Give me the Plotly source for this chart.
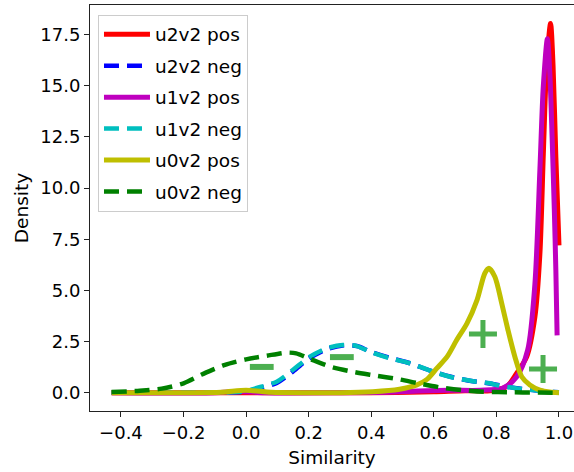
import plotly.graph_objects as go

# ---- data ----
u2v2_pos_x = [-0.43, 0.0, 0.4, 0.6, 0.7, 0.78, 0.833, 0.865, 0.897, 0.923, 0.939, 0.950, 0.960, 0.973, 0.981, 0.990, 1.0]
u2v2_pos_y = [0.0, 0.0, 0.0, 0.05, 0.1, 0.1, 0.3, 0.96, 1.76, 3.7, 6.8, 11.7, 15.8, 18.05, 16.0, 11.5, 7.2]

u2v2_neg_x = [-0.43, -0.2, -0.05, 0.0, 0.034, 0.098, 0.15, 0.204, 0.258, 0.309, 0.354, 0.396, 0.46, 0.524, 0.588, 0.651, 0.725, 0.779, 0.80, 0.865, 0.916, 0.96, 1.0]
u2v2_neg_y = [0.0, 0.0, 0.01, 0.06, 0.19, 0.48, 1.04, 1.70, 2.13, 2.31, 2.28, 2.02, 1.70, 1.44, 1.08, 0.79, 0.56, 0.45, 0.39, 0.22, 0.13, 0.05, 0.02]

u1v2_pos_x = [-0.43, -0.1, -0.02, 0.06, 0.3, 0.45, 0.55, 0.65, 0.75, 0.821, 0.865, 0.9, 0.923, 0.939, 0.950, 0.963, 0.971, 0.978, 0.985, 0.990, 0.994]
u1v2_pos_y = [0.0, 0.0, 0.06, 0.0, 0.0, 0.02, 0.08, 0.12, 0.12, 0.23, 0.78, 2.09, 5.3, 10.9, 15.0, 17.3, 15.5, 12.5, 9.0, 6.0, 2.8]

u1v2_neg_x = [-0.43, -0.2, -0.05, 0.0, 0.034, 0.098, 0.15, 0.204, 0.258, 0.309, 0.354, 0.396, 0.46, 0.524, 0.588, 0.651, 0.725, 0.779, 0.80, 0.865, 0.916, 0.96, 1.0]
u1v2_neg_y = [0.0, 0.0, 0.02, 0.08, 0.23, 0.54, 1.12, 1.76, 2.17, 2.33, 2.28, 2.0, 1.68, 1.44, 1.08, 0.78, 0.56, 0.46, 0.38, 0.21, 0.13, 0.05, 0.02]

u0v2_pos_x = [-0.43, -0.2, -0.08, 0.0, 0.08, 0.2, 0.3, 0.405, 0.49, 0.546, 0.578, 0.61, 0.642, 0.674, 0.706, 0.738, 0.763, 0.776, 0.795, 0.817, 0.837, 0.859, 0.881, 0.907, 0.939, 0.97, 1.0]
u0v2_pos_y = [0.0, 0.0, 0.02, 0.12, 0.02, 0.0, 0.0, 0.05, 0.17, 0.38, 0.65, 1.2, 1.75, 2.6, 3.39, 4.53, 5.84, 6.08, 5.67, 4.37, 3.06, 1.76, 0.78, 0.38, 0.13, 0.03, 0.0]

u0v2_neg_x = [-0.43, -0.34, -0.27, -0.20, -0.14, -0.07, 0.0, 0.066, 0.13, 0.16, 0.20, 0.27, 0.34, 0.405, 0.49, 0.55, 0.62, 0.69, 0.76, 0.85, 0.92, 1.0]
u0v2_neg_y = [0.03, 0.1, 0.2, 0.46, 0.9, 1.35, 1.63, 1.81, 1.96, 1.92, 1.68, 1.27, 1.03, 0.86, 0.65, 0.46, 0.26, 0.13, 0.05, 0.02, 0.01, 0.0]

plus_x = [0.757, 0.949]
plus_y = [2.87, 1.16]
minus_x = [0.05, 0.306]
minus_y = [1.26, 1.74]

x_ticks = [-0.4, -0.2, 0.0, 0.2, 0.4, 0.6, 0.8, 1.0]
y_ticks = [0.0, 2.5, 5.0, 7.5, 10.0, 12.5, 15.0, 17.5]

series = [
    ("u2v2 pos", u2v2_pos_x, u2v2_pos_y, "#ff0000", "solid"),
    ("u2v2 neg", u2v2_neg_x, u2v2_neg_y, "#0000ff", "dash"),
    ("u1v2 pos", u1v2_pos_x, u1v2_pos_y, "#bf00bf", "solid"),
    ("u1v2 neg", u1v2_neg_x, u1v2_neg_y, "#00bfbf", "dash"),
    ("u0v2 pos", u0v2_pos_x, u0v2_pos_y, "#bfbf00", "solid"),
    ("u0v2 neg", u0v2_neg_x, u0v2_neg_y, "#008000", "dash"),
]

FONT = "DejaVu Sans"
TICK_SIZE = 18
LABEL_SIZE = 18.5
fig = go.Figure()
for i, (name, xs, ys, color, style) in enumerate(series):
    fig.add_trace(go.Scatter(
        x=xs, y=ys, name=name, mode="lines", legendgroup=f"g{i}",
        line=dict(color=color, width=5 if style == "solid" else 4.5,
                  dash="solid" if style == "solid" else "15px,8px",
                  shape="spline", smoothing=0.8),
    ))

mark_color = "#4caf50"
fig.add_trace(go.Scatter(x=plus_x, y=plus_y, mode="markers", showlegend=False,
                         marker=dict(symbol="cross-thin", size=20,
                                     line=dict(color=mark_color, width=5))))
fig.add_trace(go.Scatter(x=minus_x, y=minus_y, mode="markers", showlegend=False,
                         marker=dict(symbol="line-ew", size=17,
                                     line=dict(color=mark_color, width=6))))

axis_common = dict(showgrid=False, zeroline=False, showline=True, linecolor="#222",
                   linewidth=1, ticks="outside", ticklen=5, tickcolor="#222",
                   tickfont=dict(family=FONT, size=TICK_SIZE, color="black"))
fig.update_xaxes(range=[-0.499, 1.048], tickvals=x_ticks, tickformat=".1f", mirror=True,
                 title=dict(text="Similarity", font=dict(family=FONT, size=LABEL_SIZE, color="black"), standoff=9),
                 **axis_common)
fig.update_yaxes(range=[-0.894, 18.95], tickvals=y_ticks, tickformat=".1f", mirror=False,
                 title=dict(text="Density", font=dict(family=FONT, size=LABEL_SIZE, color="black"), standoff=6),
                 **axis_common)

fig.update_layout(
    width=574, height=472, autosize=False,
    margin=dict(l=90, r=0, t=5, b=61),
    plot_bgcolor="white", paper_bgcolor="white",
    font=dict(family=FONT, size=LABEL_SIZE, color="black"),
    legend=dict(x=0.0165, y=0.976, xanchor="left", yanchor="top",
                bgcolor="rgba(255,255,255,0.8)", bordercolor="#cccccc", borderwidth=1,
                font=dict(family=FONT, size=LABEL_SIZE, color="black"),
                tracegroupgap=4.4, itemwidth=46),
)

fig.write_html("out.html")
